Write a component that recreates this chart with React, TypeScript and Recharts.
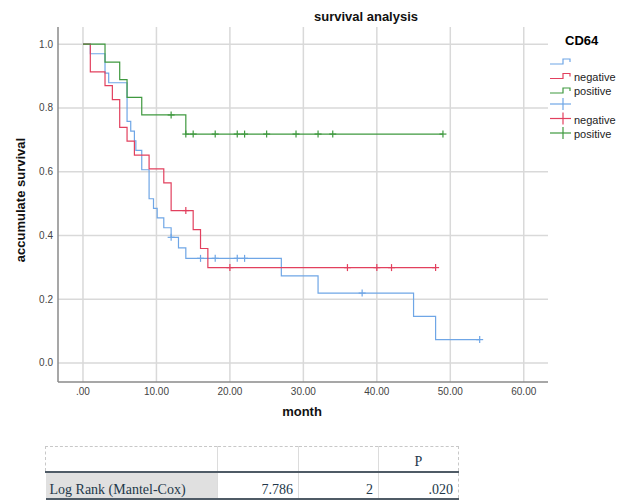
import {
  ComposedChart,
  Line,
  Scatter,
  XAxis,
  YAxis,
  CartesianGrid,
} from 'recharts'

// Kaplan-Meier steps (t = month, s = cumulative survival)
const blueTimes = [0, 1, 3, 3.5, 6, 6.5, 7, 7.2, 8, 9, 9.6, 10.1, 11, 12, 13, 14, 27, 32, 45, 48, 54]
const blueSurv = [1, 0.97, 0.909, 0.879, 0.758, 0.727, 0.697, 0.667, 0.606, 0.515, 0.485, 0.455, 0.424, 0.394, 0.361, 0.328, 0.273, 0.219, 0.146, 0.073, 0.073]
const blueCensorTimes = [12, 16, 18, 21, 22, 38, 54]
const blueCensorSurv = [0.394, 0.328, 0.328, 0.328, 0.328, 0.219, 0.073]

const redTimes = [0, 1, 3, 4, 5, 6, 7, 9, 11, 12, 15, 16, 17, 48]
const redSurv = [1, 0.913, 0.87, 0.826, 0.739, 0.696, 0.652, 0.609, 0.565, 0.478, 0.418, 0.359, 0.299, 0.299]
const redCensorTimes = [14, 20, 36, 40, 42, 48]
const redCensorSurv = [0.478, 0.299, 0.299, 0.299, 0.299, 0.299]

const greenTimes = [0, 3, 5, 6, 8, 14, 49]
const greenSurv = [1, 0.944, 0.889, 0.833, 0.778, 0.718, 0.718]
const greenCensorTimes = [12, 14, 15, 18, 21, 22, 25, 29, 32, 34, 49]
const greenCensorSurv = [0.778, 0.718, 0.718, 0.718, 0.718, 0.718, 0.718, 0.718, 0.718, 0.718, 0.718]

const xTicks = [0, 10, 20, 30, 40, 50, 60]
const yTicks = [0, 0.2, 0.4, 0.6, 0.8, 1.0]

const legendLabels = ['', 'negative', 'positive', '', 'negative', 'positive']

const testLabel = 'Log Rank (Mantel-Cox)'
const testValues = ['7.786', '2', '.020']

const BLUE = '#6fa6e6'
const RED = '#e2405e'
const GREEN = '#3f993f'

function toPoints(ts: number[], ss: number[]) {
  return ts.map((t, i) => ({ t, s: ss[i] }))
}

function formatX(v: number): string {
  return v === 0 ? '.00' : v.toFixed(2)
}

// small "+" used for censored cases
function makeCross(color: string) {
  // eslint-disable-next-line @typescript-eslint/no-explicit-any
  return (props: any) => {
    const { cx, cy } = props
    return (
      <g>
        <line x1={cx - 3.5} y1={cy} x2={cx + 3.5} y2={cy} stroke={color} strokeWidth={1.2} />
        <line x1={cx} y1={cy - 3.5} x2={cx} y2={cy + 3.5} stroke={color} strokeWidth={1.2} />
      </g>
    )
  }
}

const legendColors = [BLUE, RED, GREEN, BLUE, RED, GREEN]
const legendRows = [61, 75.5, 90, 104, 118.5, 133]

function Legend() {
  return (
    <svg width={80} height={150} style={{ position: 'absolute', left: 545, top: 25 }}>
      <text x={20} y={20} fontSize={13} fontWeight="bold" fontFamily="Liberation Sans, Arial, sans-serif" fill="#000">
        CD64
      </text>
      {legendLabels.map((lab, i) => {
        const y = legendRows[i] - 25
        const c = legendColors[i]
        return (
          <g key={i}>
            {i < 3 ? (
              <polyline
                points={`5,${y + 3} 18,${y + 3} 18,${y - 2} 25,${y - 2} 25,${y + 1}`}
                fill="none"
                stroke={c}
                strokeWidth={1.2}
              />
            ) : (
              <g>
                <line x1={5} y1={y} x2={26} y2={y} stroke={c} strokeWidth={1.2} />
                <line x1={18} y1={y - 6} x2={18} y2={y + 6} stroke={c} strokeWidth={1.2} />
              </g>
            )}
            <text x={29} y={y + 5} fontSize={11} fontFamily="Liberation Sans, Arial, sans-serif" fill="#222">
              {lab}
            </text>
          </g>
        )
      })}
    </svg>
  )
}

function TestTable() {
  const dash = '1px dashed #c8c8c8'
  const thin = '1px solid #dcdcdc'
  const dark = '2px solid #4f5b66'
  return (
    <table
      style={{
        position: 'absolute',
        left: 45,
        top: 446,
        width: 413,
        tableLayout: 'fixed',
        borderCollapse: 'collapse',
        fontFamily: 'Liberation Serif, Times New Roman, serif',
        fontSize: 14,
        color: '#23384a',
      }}
    >
      <colgroup>
        <col style={{ width: 172 }} />
        <col style={{ width: 81 }} />
        <col style={{ width: 80 }} />
        <col style={{ width: 80 }} />
      </colgroup>
      <tbody>
        <tr style={{ height: 25 }}>
          <td style={{ borderTop: dash, borderRight: thin, borderBottom: dark, borderLeft: dash }} />
          <td style={{ borderTop: dash, borderRight: thin, borderBottom: dark }} />
          <td style={{ borderTop: dash, borderRight: thin, borderBottom: dark }} />
          <td style={{ textAlign: 'center', borderTop: dash, borderRight: dash, borderBottom: dark, padding: '0 0 1px', verticalAlign: 'bottom' }}>
            P
          </td>
        </tr>
        <tr style={{ height: 27 }}>
          <td style={{ background: '#e0e0e0', padding: '0 4px 0', borderBottom: dark, borderRight: thin, verticalAlign: 'bottom', whiteSpace: 'nowrap' }}>
            {testLabel}
          </td>
          {testValues.map((v, i) => (
            <td
              key={i}
              style={{
                textAlign: 'right',
                padding: '0 5px 0',
                borderBottom: dark,
                borderRight: i < 2 ? thin : dash,
                verticalAlign: 'bottom',
              }}
            >
              {v}
            </td>
          ))}
        </tr>
      </tbody>
    </table>
  )
}

export default function App() {
  const font = 'Liberation Sans, Arial, sans-serif'
  return (
    <div style={{ position: 'absolute', left: 0, top: 0, width: 624, height: 501, background: '#fff', fontFamily: font }}>
      <div
        style={{
          position: 'absolute',
          left: 366,
          top: 9,
          transform: 'translateX(-50%)',
          fontSize: 13,
          fontWeight: 'bold',
          whiteSpace: 'nowrap',
          color: '#111',
        }}
      >
        survival analysis
      </div>
      <div
        style={{
          position: 'absolute',
          left: 20,
          top: 200,
          transform: 'translate(-50%, -50%) rotate(-90deg)',
          fontSize: 13,
          fontWeight: 'bold',
          whiteSpace: 'nowrap',
          color: '#111',
        }}
      >
        accumulate survival
      </div>
      <div
        style={{
          position: 'absolute',
          left: 302,
          top: 404,
          transform: 'translateX(-50%)',
          fontSize: 13,
          fontWeight: 'bold',
          color: '#111',
        }}
      >
        month
      </div>

      <div style={{ position: 'absolute', left: 0, top: 0 }}>
        <ComposedChart width={624} height={430} margin={{ top: 27, right: 76, bottom: 0, left: 0 }}>
          <CartesianGrid stroke="#d9d9d9" strokeWidth={1.5} horizontalValues={yTicks} verticalValues={xTicks} />
          <XAxis
            dataKey="t"
            type="number"
            domain={[-3.4, 63.3]}
            allowDataOverflow
            ticks={xTicks}
            tickFormatter={formatX}
            tick={{ fill: '#444', fontSize: 10, fontFamily: font }}
            tickLine={false}
            tickSize={0}
            tickMargin={6}
            axisLine={{ stroke: '#8a8a8a', strokeWidth: 1.5 }}
            height={48}
          />
          <YAxis
            dataKey="s"
            type="number"
            domain={[-0.06, 1.054]}
            allowDataOverflow
            ticks={yTicks}
            tickFormatter={(v: number) => v.toFixed(1)}
            tick={{ fill: '#444', fontSize: 10, fontFamily: font }}
            tickLine={false}
            tickSize={0}
            tickMargin={5}
            axisLine={{ stroke: '#8a8a8a', strokeWidth: 1.5 }}
            width={58}
          />
          <Line data={toPoints(blueTimes, blueSurv)} dataKey="s" type="stepAfter" stroke={BLUE} strokeWidth={1.2} dot={false} activeDot={false} isAnimationActive={false} />
          <Line data={toPoints(redTimes, redSurv)} dataKey="s" type="stepAfter" stroke={RED} strokeWidth={1.2} dot={false} activeDot={false} isAnimationActive={false} />
          <Line data={toPoints(greenTimes, greenSurv)} dataKey="s" type="stepAfter" stroke={GREEN} strokeWidth={1.2} dot={false} activeDot={false} isAnimationActive={false} />
          <Scatter data={toPoints(blueCensorTimes, blueCensorSurv)} dataKey="s" shape={makeCross(BLUE)} isAnimationActive={false} />
          <Scatter data={toPoints(redCensorTimes, redCensorSurv)} dataKey="s" shape={makeCross(RED)} isAnimationActive={false} />
          <Scatter data={toPoints(greenCensorTimes, greenCensorSurv)} dataKey="s" shape={makeCross(GREEN)} isAnimationActive={false} />
        </ComposedChart>
      </div>

      <Legend />
      <TestTable />
    </div>
  )
}
